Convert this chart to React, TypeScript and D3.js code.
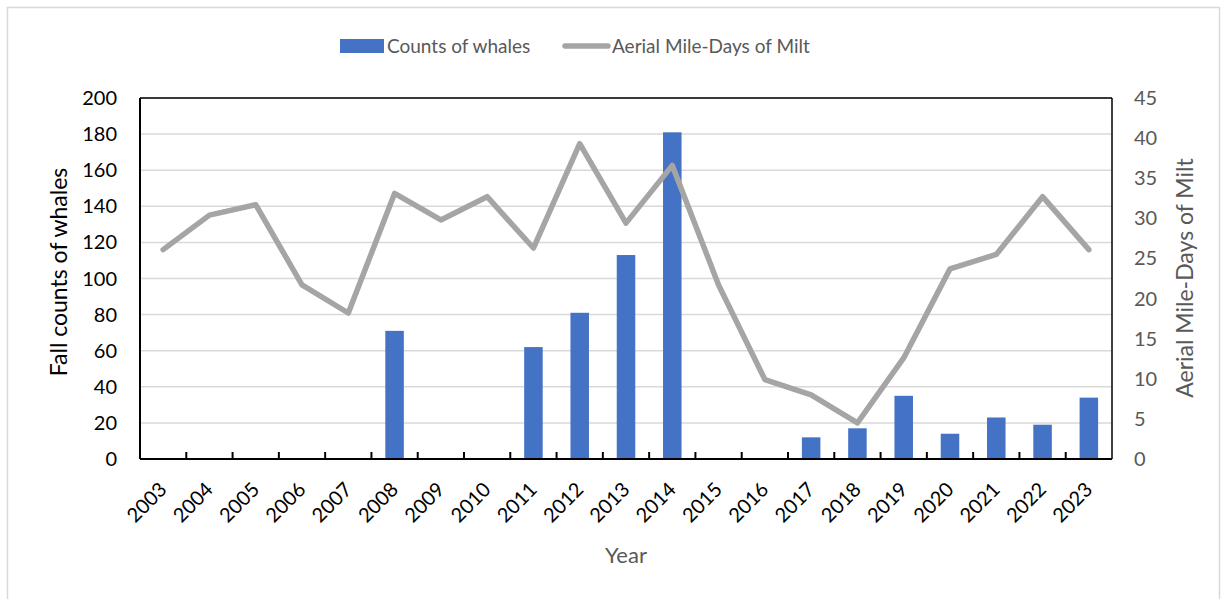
import React from 'react'
import * as d3 from 'd3'

const years = [
  '2003', '2004', '2005', '2006', '2007', '2008', '2009', '2010', '2011', '2012', '2013',
  '2014', '2015', '2016', '2017', '2018', '2019', '2020', '2021', '2022', '2023'
]
const whaleCounts = [0, 0, 0, 0, 0, 71, 0, 0, 62, 81, 113, 181, 0, 0, 12, 17, 35, 14, 23, 19, 34]
const mileDays = [
  26.1, 30.4, 31.7, 21.7, 18.2, 33.1, 29.8, 32.7, 26.3, 39.3, 29.4,
  36.6, 21.7, 9.9, 8.0, 4.5, 12.6, 23.7, 25.5, 32.7, 26.1
]
const leftTicks = [0, 20, 40, 60, 80, 100, 120, 140, 160, 180, 200]
const rightTicks = [0, 5, 10, 15, 20, 25, 30, 35, 40, 45]

const W = 1221,
  H = 599,
  font = 'Lato, "Open Sans", sans-serif'

export default function App() {
  const left = 140,
    right = 1112,
    top = 98,
    bottom = 459

  const x = d3.scaleBand().domain(years).range([left, right]).paddingInner(0.6).paddingOuter(0.3)
  const band = d3.scaleBand().domain(years).range([left, right])
  const yL = d3.scaleLinear().domain([0, 200]).range([bottom, top])
  const yR = d3.scaleLinear().domain([0, 45]).range([bottom, top])

  const line = d3
    .line<number>()
    .x((d, i) => band(years[i])! + band.bandwidth() / 2)
    .y(d => yR(d))

  return (
    <svg
      width={W}
      height={H}
      style={{ position: 'absolute', left: 0, top: 0, background: '#fff' }}
      fontFamily={font}>
      <rect x={7.5} y={7.5} width={1212} height={600} fill='#fff' stroke='#d9d9d9' strokeWidth={1.5} />

      {/* gridlines */}
      {leftTicks.slice(1).map(t => (
        <line key={t} x1={left} x2={right} y1={yL(t)} y2={yL(t)} stroke='#d9d9d9' strokeWidth={1.5} />
      ))}

      {/* bars */}
      {whaleCounts.map((v, i) =>
        v > 0 ? (
          <rect
            key={i}
            x={x(years[i])}
            y={yL(v)}
            width={x.bandwidth()}
            height={bottom - yL(v)}
            fill='#4472c4'
          />
        ) : null
      )}

      {/* line */}
      <path
        d={line(mileDays)!}
        fill='none'
        stroke='#a5a5a5'
        strokeWidth={5.5}
        strokeLinejoin='round'
        strokeLinecap='round'
      />

      {/* frame */}
      <line x1={left} x2={right} y1={top} y2={top} stroke='#000' strokeWidth={1.5} />
      <line x1={right} x2={right} y1={top} y2={bottom} stroke='#000' strokeWidth={1.5} />
      <line x1={left} x2={left} y1={top} y2={bottom} stroke='#000' strokeWidth={2} />
      <line x1={left} x2={right} y1={bottom} y2={bottom} stroke='#000' strokeWidth={2} />
      {years.slice(1).map(yr => (
        <line
          key={yr}
          x1={band(yr)}
          x2={band(yr)}
          y1={bottom}
          y2={bottom - 7}
          stroke='#000'
          strokeWidth={2}
        />
      ))}

      {/* left axis */}
      {leftTicks.map(t => (
        <text key={t} x={117} y={yL(t)} dy='0.35em' textAnchor='end' fontSize={20} fill='#000'>
          {t}
        </text>
      ))}
      <text
        transform={`translate(67,272) rotate(-90)`}
        textAnchor='middle'
        fontSize={23}
        fill='#000'>
        Fall counts of whales
      </text>

      {/* right axis */}
      {rightTicks.map(t => (
        <text key={t} x={1134} y={yR(t)} dy='0.35em' textAnchor='start' fontSize={20} fill='#595959'>
          {t}
        </text>
      ))}
      <text
        transform={`translate(1193,278) rotate(-90)`}
        textAnchor='middle'
        fontSize={23}
        fill='#595959'>
        Aerial Mile-Days of Milt
      </text>

      {/* x axis labels */}
      {years.map(yr => {
        const cx = band(yr)! + band.bandwidth() / 2
        return (
          <text
            key={yr}
            transform={`translate(${cx - 5},${bottom + 22}) rotate(-45)`}
            textAnchor='end'
            dy='0.7em'
            fontSize={20}
            fill='#000'>
            {yr}
          </text>
        )
      })}
      <text x={626} y={563} textAnchor='middle' fontSize={22} fill='#595959'>
        Year
      </text>

      {/* legend */}
      <rect x={340} y={39} width={44} height={14} fill='#4472c4' />
      <text x={387} y={53} fontSize={19} fill='#595959'>
        Counts of whales
      </text>
      <line x1={565} x2={608} y1={46} y2={46} stroke='#a5a5a5' strokeWidth={5.5} strokeLinecap='round' />
      <text x={612} y={53} fontSize={19} fill='#595959'>
        Aerial Mile-Days of Milt
      </text>
    </svg>
  )
}
